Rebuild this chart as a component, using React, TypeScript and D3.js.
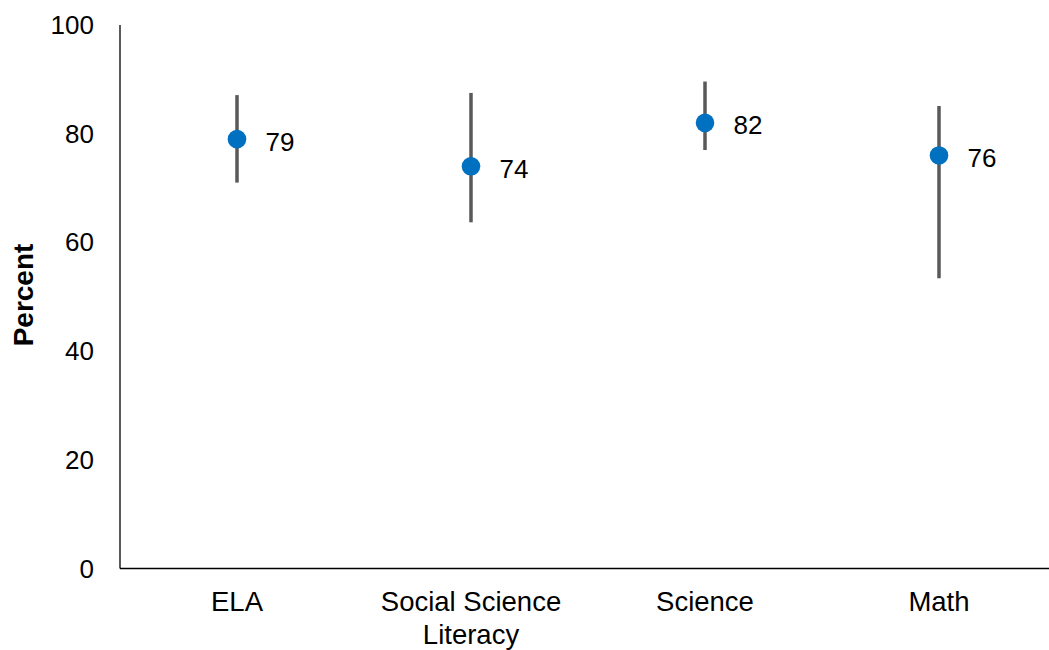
import React from "react";
import * as d3 from "d3";

const categories = ["ELA", "Social Science Literacy", "Science", "Math"];
const values = [79, 74, 82, 76];
const lowerBounds = [71, 63.7, 77, 53.4];
const upperBounds = [87.1, 87.5, 89.6, 85.1];
const yTicks = [0, 20, 40, 60, 80, 100];

const W = 1049;
const H = 650;
const FONT = "Arial, 'Liberation Sans', sans-serif";

export default function App() {
  const x = d3.scaleBand<string>().domain(categories).range([120, 1056]);
  const y = d3.scaleLinear().domain([0, 100]).range([568.5, 25]);
  const cx = (c: string) => (x(c) ?? 0) + x.bandwidth() / 2;

  const splitLabel = (s: string) =>
    s === "Social Science Literacy" ? ["Social Science", "Literacy"] : [s];

  return (
    <svg
      width={W}
      height={H}
      style={{ position: "absolute", left: 0, top: 0 }}
      fontFamily={FONT}
    >
      <rect width={W} height={H} fill="#ffffff" />
      {/* axes */}
      <line x1={120} x2={120} y1={y(100)} y2={y(0)} stroke="#000" strokeWidth={1.3} />
      <line x1={120} x2={W} y1={y(0)} y2={y(0)} stroke="#000" strokeWidth={1.3} />
      {yTicks.map((t) => (
        <text key={t} x={94} y={y(t) + 9} textAnchor="end" fontSize={26} fill="#000">
          {t}
        </text>
      ))}
      <text
        transform={`translate(23.5, 295) rotate(-90)`}
        textAnchor="middle"
        dominantBaseline="central"
        fontSize={28}
        fontWeight="bold"
        fill="#000"
      >
        Percent
      </text>
      {categories.map((c) => (
        <text key={c} textAnchor="middle" fontSize={27.5} fill="#000">
          {splitLabel(c).map((line, i) => (
            <tspan key={i} x={cx(c)} y={611 + i * 32.5}>
              {line}
            </tspan>
          ))}
        </text>
      ))}
      {/* intervals and point estimates */}
      {categories.map((c, i) => (
        <g key={c}>
          <line
            x1={cx(c)}
            x2={cx(c)}
            y1={y(upperBounds[i])}
            y2={y(lowerBounds[i])}
            stroke="#595959"
            strokeWidth={3.5}
          />
          <circle cx={cx(c)} cy={y(values[i])} r={9.3} fill="#0070C0" />
          <text
            x={cx(c) + 28.5}
            y={y(values[i]) + 11.5}
            fontSize={26}
            fill="#000"
          >
            {values[i]}
          </text>
        </g>
      ))}
    </svg>
  );
}
